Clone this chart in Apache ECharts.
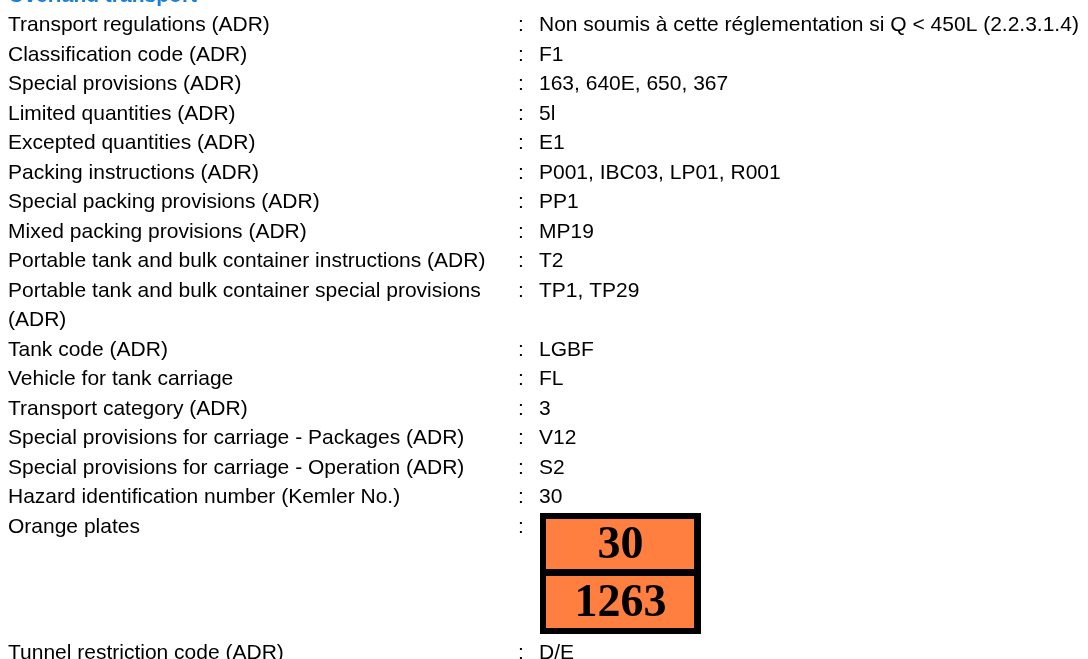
<!DOCTYPE html>
<html>
<head>
<meta charset="utf-8">
<script src="https://cdn.jsdelivr.net/npm/echarts@6/dist/echarts.min.js"></script>
<style>
html,body{margin:0;padding:0;background:#fff;}
#chart{width:1088px;height:659px;}
</style>
</head>
<body>
<div id="chart"></div>
<script>
// ---- data ----
const sectionTitle = 'Overland transport';
const labels = [
  'Transport regulations (ADR)',
  'Classification code (ADR)',
  'Special provisions (ADR)',
  'Limited quantities (ADR)',
  'Excepted quantities (ADR)',
  'Packing instructions (ADR)',
  'Special packing provisions (ADR)',
  'Mixed packing provisions (ADR)',
  'Portable tank and bulk container instructions (ADR)',
  'Portable tank and bulk container special provisions (ADR)',
  'Tank code (ADR)',
  'Vehicle for tank carriage',
  'Transport category (ADR)',
  'Special provisions for carriage - Packages (ADR)',
  'Special provisions for carriage - Operation (ADR)',
  'Hazard identification number (Kemler No.)'
];
const values = [
  'Non soumis à cette réglementation si Q < 450L (2.2.3.1.4)',
  'F1',
  '163, 640E, 650, 367',
  '5l',
  'E1',
  'P001, IBC03, LP01, R001',
  'PP1',
  'MP19',
  'T2',
  'TP1, TP29',
  'LGBF',
  'FL',
  '3',
  'V12',
  'S2',
  '30'
];
const plateLabel = 'Orange plates';
const plateNumbers = ['30', '1263'];
const lastLabel = 'Tunnel restriction code (ADR)';
const lastValue = 'D/E';

// ---- layout ----
const FONT = '21px "Liberation Sans", Arial, sans-serif';
const LH = 29.5;
const labelX = 8, colonX = 518, valueX = 539, labelWidth = 495;
const firstY = 25.5;

const cvs = document.createElement('canvas').getContext('2d');
cvs.font = FONT;
function wrap(text, w) {
  const words = text.split(' ');
  const lines = [];
  let cur = '';
  words.forEach(wd => {
    const t = cur ? cur + ' ' + wd : wd;
    if (cur && cvs.measureText(t).width > w) { lines.push(cur); cur = wd; }
    else cur = t;
  });
  if (cur) lines.push(cur);
  return lines;
}

const elements = [];
function txt(x, yCenter, text, extra) {
  elements.push({
    type: 'text', x: x, y: yCenter - LH / 2, silent: true,
    style: Object.assign({
      text: text, font: FONT, fill: '#000', align: 'left',
      verticalAlign: 'top', lineHeight: LH
    }, extra || {})
  });
}

txt(labelX, firstY - LH, sectionTitle, {font: 'bold 21px "Liberation Sans", Arial, sans-serif', fill: '#1a7fd6'});

let y = firstY;
labels.forEach((lab, i) => {
  const lines = wrap(lab, labelWidth);
  txt(labelX, y, lines.join('\n'));
  txt(colonX, y, ':');
  txt(valueX, y, values[i]);
  y += LH * lines.length;
});

// orange plates row
txt(labelX, y, plateLabel);
txt(colonX, y, ':');
const pTop = Math.round(y - 14.5), pLeft = 540, pW = 161, border = 6, panelH = 50, divider = 7, lastPanelH = 52;
const pH = border * 2 + panelH + divider + lastPanelH;
elements.push({type: 'rect', silent: true, shape: {x: pLeft, y: pTop, width: pW, height: pH}, style: {fill: '#000'}});
plateNumbers.forEach((num, k) => {
  const py = pTop + border + k * (panelH + divider);
  const h = k === 0 ? panelH : lastPanelH;
  elements.push({type: 'rect', silent: true,
    shape: {x: pLeft + border, y: py, width: pW - 2 * border - 1, height: h},
    style: {fill: '#ff7f41'}});
  elements.push({type: 'text', silent: true, x: pLeft + pW / 2, y: py + h / 2 + 2,
    style: {text: num, font: 'bold 46px "Liberation Serif", "Times New Roman", serif',
      fill: '#000', align: 'center', verticalAlign: 'middle'}});
});

const yLast = pTop + pH + 19;
txt(labelX, yLast, lastLabel);
txt(colonX, yLast, ':');
txt(valueX, yLast, lastValue);

const chart = echarts.init(document.getElementById('chart'), null, {renderer: 'canvas'});
chart.setOption({
  backgroundColor: '#fff',
  animation: false,
  graphic: {elements: elements}
});
</script>
</body>
</html>
